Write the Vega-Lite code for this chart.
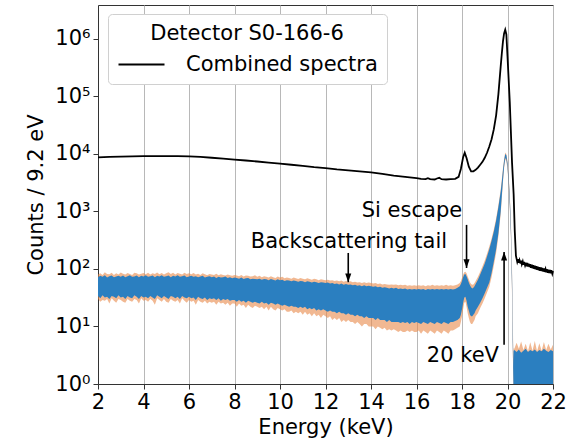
{
  "$schema": "https://vega.github.io/schema/vega-lite/v6.json",
  "width": 455,
  "height": 379,
  "autosize": {"type": "none"},
  "padding": {"left": 98, "top": 5, "right": 15, "bottom": 54},
  "background": "white",
  "config": {
    "font": "DejaVu Sans",
    "view": {"stroke": "#333333", "strokeWidth": 1},
    "axis": {"labelFontSize": 21, "titleFontSize": 21, "titleFontWeight": "normal", "labelColor": "black", "titleColor": "black", "domainColor": "#333333", "tickColor": "#333333", "tickSize": 5, "gridColor": "#b8b8b8", "gridWidth": 1}
  },
  "datasets": {
    "band": [
      {"e":2.0,"lo":34,"hi":72,"lo2":30,"hi2":80},{"e":2.1,"lo":31,"hi":76,"lo2":27,"hi2":84},{"e":2.2,"lo":35,"hi":73,"lo2":29,"hi2":79},{"e":2.3,"lo":32,"hi":78,"lo2":28,"hi2":88},{"e":2.4,"lo":33,"hi":71,"lo2":30,"hi2":82},{"e":2.5,"lo":30,"hi":75,"lo2":25,"hi2":81},{"e":2.6,"lo":34,"hi":77,"lo2":31,"hi2":86},{"e":2.7,"lo":33,"hi":72,"lo2":28,"hi2":79},{"e":2.8,"lo":31,"hi":74,"lo2":26,"hi2":84},{"e":2.9,"lo":35,"hi":76,"lo2":30,"hi2":80},
      {"e":3.0,"lo":32,"hi":73,"lo2":29,"hi2":87},{"e":3.1,"lo":33,"hi":77,"lo2":27,"hi2":83},{"e":3.2,"lo":30,"hi":72,"lo2":26,"hi2":80},{"e":3.3,"lo":34,"hi":75,"lo2":30,"hi2":85},{"e":3.4,"lo":32,"hi":78,"lo2":28,"hi2":82},{"e":3.5,"lo":31,"hi":73,"lo2":27,"hi2":79},{"e":3.6,"lo":35,"hi":74,"lo2":30,"hi2":86},{"e":3.7,"lo":33,"hi":77,"lo2":29,"hi2":84},{"e":3.8,"lo":30,"hi":72,"lo2":25,"hi2":80},{"e":3.9,"lo":34,"hi":76,"lo2":31,"hi2":83},
      {"e":4.0,"lo":32,"hi":74,"lo2":28,"hi2":85},{"e":4.1,"lo":33,"hi":78,"lo2":29,"hi2":81},{"e":4.2,"lo":31,"hi":73,"lo2":27,"hi2":86},{"e":4.3,"lo":34,"hi":75,"lo2":30,"hi2":80},{"e":4.4,"lo":32,"hi":77,"lo2":28,"hi2":84},{"e":4.5,"lo":30,"hi":72,"lo2":24,"hi2":82},{"e":4.6,"lo":35,"hi":76,"lo2":31,"hi2":87},{"e":4.7,"lo":33,"hi":74,"lo2":29,"hi2":81},{"e":4.8,"lo":31,"hi":78,"lo2":27,"hi2":85},{"e":4.9,"lo":34,"hi":73,"lo2":30,"hi2":80},
      {"e":5.0,"lo":32,"hi":75,"lo2":27,"hi2":84},{"e":5.1,"lo":30,"hi":77,"lo2":26,"hi2":88},{"e":5.2,"lo":34,"hi":72,"lo2":30,"hi2":82},{"e":5.3,"lo":33,"hi":76,"lo2":28,"hi2":86},{"e":5.4,"lo":31,"hi":74,"lo2":27,"hi2":80},{"e":5.5,"lo":33,"hi":78,"lo2":29,"hi2":85},{"e":5.6,"lo":30,"hi":73,"lo2":25,"hi2":83},{"e":5.7,"lo":34,"hi":75,"lo2":31,"hi2":80},{"e":5.8,"lo":32,"hi":77,"lo2":28,"hi2":86},{"e":5.9,"lo":31,"hi":72,"lo2":26,"hi2":82},
      {"e":6.0,"lo":33,"hi":74,"lo2":29,"hi2":84},{"e":6.1,"lo":31,"hi":76,"lo2":27,"hi2":81},{"e":6.2,"lo":32,"hi":73,"lo2":28,"hi2":85},{"e":6.3,"lo":29,"hi":75,"lo2":24,"hi2":80},{"e":6.4,"lo":33,"hi":72,"lo2":29,"hi2":83},{"e":6.5,"lo":31,"hi":74,"lo2":27,"hi2":79},{"e":6.6,"lo":30,"hi":76,"lo2":26,"hi2":84},{"e":6.7,"lo":32,"hi":71,"lo2":28,"hi2":81},{"e":6.8,"lo":29,"hi":73,"lo2":25,"hi2":78},{"e":6.9,"lo":31,"hi":75,"lo2":27,"hi2":82},
      {"e":7.0,"lo":30,"hi":72,"lo2":26,"hi2":80},{"e":7.1,"lo":31,"hi":74,"lo2":27,"hi2":79},{"e":7.2,"lo":29,"hi":70,"lo2":24,"hi2":83},{"e":7.3,"lo":31,"hi":73,"lo2":27,"hi2":78},{"e":7.4,"lo":28,"hi":71,"lo2":25,"hi2":81},{"e":7.5,"lo":30,"hi":72,"lo2":26,"hi2":79},{"e":7.6,"lo":29,"hi":74,"lo2":24,"hi2":77},{"e":7.7,"lo":30,"hi":70,"lo2":26,"hi2":80},{"e":7.8,"lo":28,"hi":72,"lo2":23,"hi2":78},{"e":7.9,"lo":29,"hi":69,"lo2":25,"hi2":76},
      {"e":8.0,"lo":29,"hi":71,"lo2":25,"hi2":79},{"e":8.1,"lo":27,"hi":70,"lo2":22,"hi2":77},{"e":8.2,"lo":29,"hi":68,"lo2":25,"hi2":75},{"e":8.3,"lo":27,"hi":71,"lo2":23,"hi2":79},{"e":8.4,"lo":28,"hi":67,"lo2":24,"hi2":74},{"e":8.5,"lo":26,"hi":69,"lo2":21,"hi2":77},{"e":8.6,"lo":28,"hi":70,"lo2":24,"hi2":76},{"e":8.7,"lo":27,"hi":66,"lo2":22,"hi2":74},{"e":8.8,"lo":26,"hi":68,"lo2":21,"hi2":75},{"e":8.9,"lo":27,"hi":67,"lo2":23,"hi2":78},
      {"e":9.0,"lo":26,"hi":66,"lo2":22,"hi2":73},{"e":9.1,"lo":25,"hi":68,"lo2":21,"hi2":76},{"e":9.2,"lo":27,"hi":65,"lo2":22,"hi2":72},{"e":9.3,"lo":25,"hi":67,"lo2":20,"hi2":75},{"e":9.4,"lo":26,"hi":66,"lo2":22,"hi2":73},{"e":9.5,"lo":24,"hi":64,"lo2":19,"hi2":71},{"e":9.6,"lo":26,"hi":67,"lo2":22,"hi2":75},{"e":9.7,"lo":25,"hi":65,"lo2":20,"hi2":72},{"e":9.8,"lo":24,"hi":63,"lo2":19,"hi2":70},{"e":9.9,"lo":25,"hi":66,"lo2":21,"hi2":74},
      {"e":10.0,"lo":24,"hi":64,"lo2":20,"hi2":71},{"e":10.1,"lo":23,"hi":65,"lo2":19,"hi2":73},{"e":10.2,"lo":24,"hi":62,"lo2":20,"hi2":69},{"e":10.3,"lo":23,"hi":64,"lo2":18,"hi2":71},{"e":10.4,"lo":22,"hi":63,"lo2":18,"hi2":70},{"e":10.5,"lo":23,"hi":61,"lo2":19,"hi2":68},{"e":10.6,"lo":22,"hi":63,"lo2":17,"hi2":71},{"e":10.7,"lo":22,"hi":62,"lo2":18,"hi2":69},{"e":10.8,"lo":21,"hi":60,"lo2":17,"hi2":67},{"e":10.9,"lo":22,"hi":62,"lo2":18,"hi2":70},
      {"e":11.0,"lo":21,"hi":61,"lo2":16,"hi2":68},{"e":11.1,"lo":22,"hi":59,"lo2":18,"hi2":66},{"e":11.2,"lo":20,"hi":61,"lo2":16,"hi2":69},{"e":11.3,"lo":21,"hi":60,"lo2":17,"hi2":67},{"e":11.4,"lo":20,"hi":58,"lo2":15,"hi2":65},{"e":11.5,"lo":21,"hi":60,"lo2":17,"hi2":68},{"e":11.6,"lo":19,"hi":59,"lo2":15,"hi2":66},{"e":11.7,"lo":20,"hi":57,"lo2":16,"hi2":64},{"e":11.8,"lo":19,"hi":59,"lo2":14,"hi2":66},{"e":11.9,"lo":20,"hi":58,"lo2":16,"hi2":65},
      {"e":12.0,"lo":19,"hi":57,"lo2":15,"hi2":64},{"e":12.1,"lo":18,"hi":58,"lo2":14,"hi2":65},{"e":12.2,"lo":19,"hi":56,"lo2":15,"hi2":63},{"e":12.3,"lo":18,"hi":57,"lo2":13,"hi2":64},{"e":12.4,"lo":18,"hi":55,"lo2":14,"hi2":62},{"e":12.5,"lo":17,"hi":56,"lo2":13,"hi2":63},{"e":12.6,"lo":18,"hi":54,"lo2":14,"hi2":61},{"e":12.7,"lo":17,"hi":56,"lo2":12,"hi2":63},{"e":12.8,"lo":17,"hi":53,"lo2":13,"hi2":60},{"e":12.9,"lo":16,"hi":55,"lo2":12,"hi2":62},
      {"e":13.0,"lo":17,"hi":53,"lo2":13,"hi2":60},{"e":13.1,"lo":16,"hi":54,"lo2":12,"hi2":61},{"e":13.2,"lo":16,"hi":52,"lo2":12,"hi2":59},{"e":13.3,"lo":15,"hi":53,"lo2":11,"hi2":60},{"e":13.4,"lo":16,"hi":51,"lo2":12,"hi2":58},{"e":13.5,"lo":15,"hi":52,"lo2":11,"hi2":59},{"e":13.6,"lo":15,"hi":50,"lo2":10,"hi2":57},{"e":13.7,"lo":14,"hi":52,"lo2":11,"hi2":59},{"e":13.8,"lo":15,"hi":50,"lo2":11,"hi2":57},{"e":13.9,"lo":14,"hi":51,"lo2":10,"hi2":58},
      {"e":14.0,"lo":14,"hi":50,"lo2":10,"hi2":57},{"e":14.1,"lo":14,"hi":49,"lo2":10,"hi2":56},{"e":14.2,"lo":13,"hi":50,"lo2":9,"hi2":57},{"e":14.3,"lo":14,"hi":48,"lo2":10,"hi2":55},{"e":14.4,"lo":13,"hi":49,"lo2":9.5,"hi2":56},{"e":14.5,"lo":13,"hi":47,"lo2":9,"hi2":54},{"e":14.6,"lo":13,"hi":48,"lo2":9.5,"hi2":55},{"e":14.7,"lo":12,"hi":47,"lo2":8.5,"hi2":54},{"e":14.8,"lo":13,"hi":46,"lo2":9,"hi2":53},{"e":14.9,"lo":12,"hi":47,"lo2":8.5,"hi2":54},
      {"e":15.0,"lo":12,"hi":46,"lo2":9,"hi2":53},{"e":15.1,"lo":12,"hi":47,"lo2":8.5,"hi2":54},{"e":15.2,"lo":12,"hi":45,"lo2":8,"hi2":52},{"e":15.3,"lo":11.5,"hi":46,"lo2":8.5,"hi2":53},{"e":15.4,"lo":12,"hi":45,"lo2":8,"hi2":52},{"e":15.5,"lo":11.5,"hi":46,"lo2":8,"hi2":53},{"e":15.6,"lo":12,"hi":44,"lo2":8.5,"hi2":51},{"e":15.7,"lo":11,"hi":45,"lo2":8,"hi2":52},{"e":15.8,"lo":12,"hi":44,"lo2":8.5,"hi2":51},{"e":15.9,"lo":11.5,"hi":45,"lo2":8,"hi2":52},
      {"e":16.0,"lo":12,"hi":44,"lo2":8,"hi2":51},{"e":16.1,"lo":11.5,"hi":45,"lo2":8.5,"hi2":52},{"e":16.2,"lo":11,"hi":44,"lo2":7.5,"hi2":51},{"e":16.3,"lo":12,"hi":45,"lo2":8.5,"hi2":52},{"e":16.4,"lo":11.5,"hi":43,"lo2":8,"hi2":50},{"e":16.5,"lo":11,"hi":45,"lo2":7.5,"hi2":52},{"e":16.6,"lo":12,"hi":44,"lo2":8.5,"hi2":51},{"e":16.7,"lo":11.5,"hi":45,"lo2":8,"hi2":53},{"e":16.8,"lo":11,"hi":44,"lo2":7.5,"hi2":51},{"e":16.9,"lo":12,"hi":45,"lo2":8.5,"hi2":52},
      {"e":17.0,"lo":11.5,"hi":44,"lo2":8,"hi2":51},{"e":17.1,"lo":11,"hi":45,"lo2":7.5,"hi2":52},{"e":17.2,"lo":12,"hi":44,"lo2":8.5,"hi2":51},{"e":17.3,"lo":11.5,"hi":45,"lo2":8,"hi2":53},{"e":17.4,"lo":11,"hi":44,"lo2":7.5,"hi2":51},{"e":17.5,"lo":12,"hi":45,"lo2":8.5,"hi2":52},{"e":17.6,"lo":12,"hi":44,"lo2":8.5,"hi2":51},{"e":17.7,"lo":12.5,"hi":45,"lo2":9,"hi2":52},{"e":17.8,"lo":13,"hi":47,"lo2":9.5,"hi2":54},
      {"e":17.9,"lo":14,"hi":50,"lo2":10,"hi2":57},{"e":17.95,"lo":16,"hi":55,"lo2":12,"hi2":62},{"e":18.0,"lo":20,"hi":62,"lo2":15,"hi2":70},{"e":18.05,"lo":26,"hi":72,"lo2":20,"hi2":80},{"e":18.1,"lo":32,"hi":80,"lo2":26,"hi2":88},{"e":18.15,"lo":33,"hi":82,"lo2":27,"hi2":90},{"e":18.2,"lo":28,"hi":75,"lo2":22,"hi2":84},{"e":18.25,"lo":22,"hi":66,"lo2":17,"hi2":74},{"e":18.3,"lo":19,"hi":58,"lo2":14,"hi2":66},{"e":18.35,"lo":16,"hi":52,"lo2":12,"hi2":59},
      {"e":18.4,"lo":15,"hi":48,"lo2":11,"hi2":55},{"e":18.45,"lo":15,"hi":46,"lo2":11,"hi2":53},{"e":18.5,"lo":16,"hi":47,"lo2":12,"hi2":54},{"e":18.55,"lo":17,"hi":50,"lo2":13,"hi2":57},{"e":18.6,"lo":19,"hi":55,"lo2":15,"hi2":62},{"e":18.7,"lo":22,"hi":65,"lo2":17,"hi2":73},{"e":18.8,"lo":26,"hi":80,"lo2":21,"hi2":90},{"e":18.9,"lo":31,"hi":100,"lo2":25,"hi2":112},{"e":19.0,"lo":38,"hi":125,"lo2":31,"hi2":140},{"e":19.1,"lo":47,"hi":165,"lo2":39,"hi2":185},
      {"e":19.2,"lo":58,"hi":220,"lo2":49,"hi2":245},{"e":19.3,"lo":85,"hi":310,"lo2":72,"hi2":340},{"e":19.4,"lo":135,"hi":450,"lo2":115,"hi2":490},{"e":19.5,"lo":220,"hi":700,"lo2":190,"hi2":760},{"e":19.6,"lo":420,"hi":1200,"lo2":370,"hi2":1300},{"e":19.7,"lo":1000,"hi":2200,"lo2":900,"hi2":2400},{"e":19.75,"lo":1900,"hi":3300,"lo2":1700,"hi2":3600},{"e":19.8,"lo":3500,"hi":5200,"lo2":3200,"hi2":5600},{"e":19.85,"lo":6000,"hi":7600,"lo2":5600,"hi2":8100},{"e":19.9,"lo":8500,"hi":10000,"lo2":8000,"hi2":10600},
      {"e":19.95,"lo":8000,"hi":9500,"lo2":7500,"hi2":10000},{"e":20.0,"lo":5800,"hi":7000,"lo2":5400,"hi2":7500},{"e":20.05,"lo":3200,"hi":4000,"lo2":2900,"hi2":4300},{"e":20.1,"lo":1300,"hi":1800,"lo2":1150,"hi2":2000},{"e":20.15,"lo":400,"hi":600,"lo2":350,"hi2":680},{"e":20.2,"lo":40,"hi":80,"lo2":32,"hi2":95},{"e":20.23,"lo":5,"hi":12,"lo2":4,"hi2":15},{"e":20.26,"lo":1,"hi":2,"lo2":1,"hi2":2.5},{"e":20.27,"lo":1,"hi":3.8,"lo2":1,"hi2":4.2},
      {"e":20.3,"lo":1,"hi":3.9,"lo2":1,"hi2":4.1},{"e":20.4,"lo":1,"hi":3.6,"lo2":1,"hi2":5.2},{"e":20.5,"lo":1,"hi":4.0,"lo2":1,"hi2":4.1},{"e":20.6,"lo":1,"hi":3.5,"lo2":1,"hi2":5.5},{"e":20.7,"lo":1,"hi":3.8,"lo2":1,"hi2":3.9},{"e":20.8,"lo":1,"hi":4.1,"lo2":1,"hi2":5.0},{"e":20.9,"lo":1,"hi":3.6,"lo2":1,"hi2":3.7},{"e":21.0,"lo":1,"hi":3.9,"lo2":1,"hi2":5.3},{"e":21.1,"lo":1,"hi":3.7,"lo2":1,"hi2":3.8},{"e":21.2,"lo":1,"hi":4.0,"lo2":1,"hi2":5.6},
      {"e":21.3,"lo":1,"hi":3.6,"lo2":1,"hi2":3.7},{"e":21.4,"lo":1,"hi":3.9,"lo2":1,"hi2":5.1},{"e":21.5,"lo":1,"hi":3.7,"lo2":1,"hi2":3.8},{"e":21.6,"lo":1,"hi":4.1,"lo2":1,"hi2":5.4},{"e":21.7,"lo":1,"hi":3.8,"lo2":1,"hi2":3.9},{"e":21.8,"lo":1,"hi":3.6,"lo2":1,"hi2":5.0},{"e":21.9,"lo":1,"hi":3.9,"lo2":1,"hi2":4.0},{"e":22.0,"lo":1,"hi":3.7,"lo2":1,"hi2":4.8}
    ],
    "combined": [
      {"e":2.0,"c":8700},{"e":2.5,"c":8900},{"e":3.0,"c":9000},{"e":3.5,"c":9100},{"e":4.0,"c":9150},{"e":4.5,"c":9200},{"e":5.0,"c":9200},{"e":5.5,"c":9150},{"e":6.0,"c":9100},{"e":6.5,"c":8900},
      {"e":7.0,"c":8600},{"e":7.5,"c":8300},{"e":8.0,"c":8000},{"e":8.5,"c":7700},{"e":9.0,"c":7400},{"e":9.5,"c":7100},{"e":10.0,"c":6800},{"e":10.5,"c":6500},{"e":11.0,"c":6200},{"e":11.5,"c":5900},
      {"e":12.0,"c":5700},{"e":12.5,"c":5400},{"e":13.0,"c":5200},{"e":13.5,"c":5000},{"e":14.0,"c":4800},{"e":14.5,"c":4500},{"e":15.0,"c":4200},{"e":15.5,"c":4000},{"e":16.0,"c":3800},{"e":16.2,"c":3700},
      {"e":16.4,"c":3650},{"e":16.5,"c":3800},{"e":16.6,"c":3650},{"e":16.8,"c":3600},{"e":16.9,"c":3750},{"e":17.0,"c":3850},{"e":17.1,"c":3650},{"e":17.3,"c":3600},{"e":17.5,"c":3650},{"e":17.7,"c":3700},
      {"e":17.85,"c":4000},{"e":17.95,"c":5500},{"e":18.05,"c":8800},{"e":18.12,"c":10500},{"e":18.2,"c":8500},{"e":18.3,"c":6000},{"e":18.4,"c":5000},{"e":18.5,"c":5000},{"e":18.6,"c":5300},{"e":18.7,"c":5800},
      {"e":18.8,"c":6500},{"e":18.9,"c":7300},{"e":19.0,"c":8600},{"e":19.1,"c":10500},{"e":19.2,"c":13500},{"e":19.3,"c":18000},{"e":19.4,"c":27000},{"e":19.5,"c":47000},{"e":19.6,"c":110000},{"e":19.7,"c":330000},
      {"e":19.75,"c":560000},{"e":19.8,"c":900000},{"e":19.85,"c":1250000},{"e":19.9,"c":1450000},{"e":19.95,"c":1200000},{"e":20.0,"c":500000},{"e":20.1,"c":80000},{"e":20.2,"c":7000},{"e":20.27,"c":2000},{"e":20.32,"c":450},
      {"e":20.37,"c":170},{"e":20.4,"c":150},{"e":20.43,"c":132},{"e":20.47,"c":148},{"e":20.5,"c":128},{"e":20.53,"c":142},{"e":20.57,"c":124},{"e":20.6,"c":139},{"e":20.63,"c":121},{"e":20.67,"c":135},
      {"e":20.7,"c":118},{"e":20.73,"c":133},{"e":20.77,"c":116},{"e":20.8,"c":129},{"e":20.83,"c":112},{"e":20.87,"c":127},{"e":20.9,"c":110},{"e":20.93,"c":124},{"e":20.97,"c":108},{"e":21.0,"c":121},
      {"e":21.03,"c":105},{"e":21.07,"c":119},{"e":21.1,"c":103},{"e":21.13,"c":116},{"e":21.17,"c":101},{"e":21.2,"c":114},{"e":21.23,"c":99},{"e":21.27,"c":112},{"e":21.3,"c":97},{"e":21.33,"c":110},
      {"e":21.37,"c":95},{"e":21.4,"c":108},{"e":21.43,"c":93},{"e":21.47,"c":106},{"e":21.5,"c":92},{"e":21.53,"c":104},{"e":21.57,"c":90},{"e":21.6,"c":102},{"e":21.63,"c":89},{"e":21.67,"c":100},
      {"e":21.7,"c":88},{"e":21.73,"c":99},{"e":21.77,"c":86},{"e":21.8,"c":97},{"e":21.83,"c":85},{"e":21.87,"c":96},{"e":21.9,"c":84},{"e":21.93,"c":95},{"e":21.97,"c":83},{"e":22.0,"c":92}
    ],
    "notes": [
      {"label":"Si escape","e":15.8,"v":1000},
      {"label":"Backscattering tail","e":13.03,"v":300},
      {"label":"20 keV","e":18.04,"v":3.08}
    ],
    "arrows": [
      {"e":18.2,"from":585,"to":104,"dir":"down"},
      {"e":13.0,"from":190,"to":59,"dir":"down"},
      {"e":19.85,"from":4.8,"to":198,"dir":"up"}
    ]
  },
  "encoding": {
    "x": {"field": "e", "type": "quantitative", "scale": {"domain": [2, 22], "nice": false, "zero": false},
      "axis": {"title": "Energy (keV)", "values": [2,4,6,8,10,12,14,16,18,20,22], "grid": true, "labelPadding": 2, "titlePadding": 4, "labelFlush": false}}
  },
  "layer": [
    {
      "data": {"name": "band"},
      "mark": {"type": "area", "color": "#e8894a", "opacity": 0.6},
      "encoding": {
        "y": {"field": "lo2", "type": "quantitative", "scale": {"type": "log", "domain": [1, 3900000], "nice": false},
          "axis": {"title": "Counts / 9.2 eV", "values": [1,10,100,1000,10000,100000,1000000], "grid": false, "labelPadding": 3, "titlePadding": 8,
            "labelExpr": "'10' + ['⁰','¹','²','³','⁴','⁵','⁶'][round(log(datum.value)/LN10)]"}},
        "y2": {"field": "hi2"}
      }
    },
    {
      "data": {"name": "band"},
      "mark": {"type": "area", "color": "#2b7fc0"},
      "encoding": {
        "y": {"field": "lo", "type": "quantitative"},
        "y2": {"field": "hi"}
      }
    },
    {
      "data": {"name": "combined"},
      "mark": {"type": "line", "strokeWidth": 1.8},
      "encoding": {
        "y": {"field": "c", "type": "quantitative"},
        "color": {"datum": "Combined spectra", "type": "nominal", "scale": {"range": ["black"]},
          "legend": {"orient": "none", "legendX": 10, "legendY": 9, "title": "Detector S0-166-6", "titleFontSize": 21, "titleFontWeight": "normal", "titleColor": "black",
            "labelFontSize": 21, "labelColor": "black", "labelLimit": 400, "titleLimit": 400, "symbolType": "M-2,0L2,0", "symbolStrokeWidth": 1.8, "symbolSize": 529, "symbolOffset": 12, "labelOffset": 32,
            "padding": 9, "strokeColor": "#d0d0d0", "fillColor": "white", "cornerRadius": 4, "titleAnchor": "middle", "titlePadding": 8}}
      }
    },
    {
      "data": {"name": "arrows"},
      "mark": {"type": "rule", "color": "black", "strokeWidth": 1.6},
      "encoding": {
        "y": {"field": "from", "type": "quantitative"},
        "y2": {"field": "to"}
      }
    },
    {
      "data": {"name": "arrows"},
      "mark": {"type": "point", "filled": true, "color": "black", "size": 300, "opacity": 1},
      "encoding": {
        "y": {"field": "to", "type": "quantitative"},
        "shape": {"field": "dir", "type": "nominal", "scale": {"domain": ["down", "up"], "range": ["M0,0L-0.35,-1L0.35,-1Z", "M0,0L-0.35,1L0.35,1Z"]}, "legend": null}
      }
    },
    {
      "data": {"name": "notes"},
      "mark": {"type": "text", "fontSize": 21, "color": "black", "align": "center", "baseline": "middle"},
      "encoding": {
        "y": {"field": "v", "type": "quantitative"},
        "text": {"field": "label"}
      }
    }
  ]
}
